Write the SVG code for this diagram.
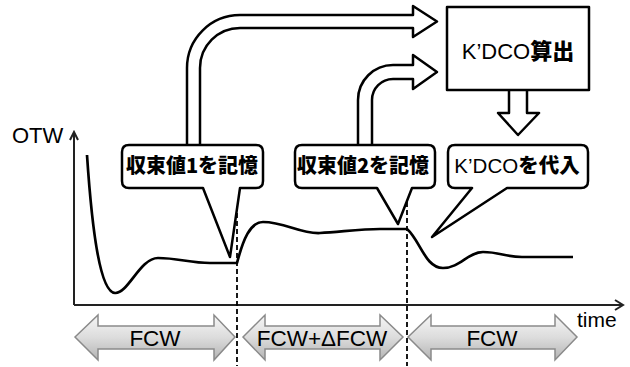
<svg xmlns="http://www.w3.org/2000/svg" width="630" height="367" viewBox="0 0 630 367">
<defs>
<linearGradient id="g" x1="0" y1="0" x2="0" y2="1">
<stop offset="0" stop-color="#f6f6f6"/>
<stop offset="0.5" stop-color="#dcdcdc"/>
<stop offset="1" stop-color="#b4b4b4"/>
</linearGradient>
</defs>
<style>
.ln{fill:none;stroke:#000;stroke-width:2.7;stroke-linejoin:round}
.ax{fill:none;stroke:#222;stroke-width:2}
.sh{fill:#fff;stroke:#000;stroke-width:2.5;stroke-linejoin:round}
.dash{fill:none;stroke:#000;stroke-width:1.8;stroke-dasharray:5 3}
.dbl{fill:url(#g);stroke:#8a8a8a;stroke-width:1.5}
.lat{font-family:"Liberation Sans",Arial,sans-serif;fill:#000}
.cjk{font-family:"Noto Sans CJK JP","Noto Sans CJK SC",sans-serif;font-weight:900;fill:#000}
</style>
<rect width="630" height="367" fill="#fff"/>
<g id="axes">
<path class="ax" d="M74,305 V132 M70,140 L74,132 L78,140"/>
<path class="ax" d="M74,305 H623 M615,300 L623,305 L615,310"/>
<text class="lat" x="12" y="143" font-size="22">OTW</text>
<text class="lat" x="577" y="327" font-size="21">time</text>
</g>
<g id="curve">
<path class="ln" d="M87,155 C92,230 100,292 115,293 C128,294 140,258 158,258 C178,258 190,263 210,263 L237,263 C243,240 250,222 263,222 C285,222 300,234 320,233 C340,232 360,229 380,229 L407,229 C420,240 425,268 443,268 C460,268 468,252 483,252 C500,252 505,257 522,257 L573,257"/>
</g>
<g id="connectors">
<path id="arrow-top1" class="sh" d="M187,146 V68 A53,53 0 0 1 240,15 H413 V6 L437,21.5 L413,37 V28 H240 A40,40 0 0 0 200,68 V146"/>
<path id="arrow-top2" class="sh" d="M358,146 V100 A35,35 0 0 1 393,65 H413 V55 L437,72 L413,89 V79 H393 A21,21 0 0 0 372,100 V146"/>
<path id="arrow-down" class="sh" d="M509,89 V113 H498 L518,135 L539,113 H527 V89"/>
</g>
<g id="box-kdco">
<rect class="sh" x="447" y="7" width="142" height="83"/>
<text x="518" y="59" text-anchor="middle" font-size="22"><tspan class="lat">K’DCO</tspan><tspan class="cjk">算出</tspan></text>
</g>
<g id="bubble1">
<path class="sh" d="M129,145 H256 Q263,145 263,152 V181 Q263,188 256,188 H240 L230,257 L203,188 H129 Q122,188 122,181 V152 Q122,145 129,145 Z"/>
<text class="cjk" x="192" y="173" text-anchor="middle" font-size="20">収束値1を記憶</text>
</g>
<g id="bubble2">
<path class="sh" d="M302,145 H428 Q435,145 435,152 V181 Q435,188 428,188 H412 L398,224 L377,188 H302 Q295,188 295,181 V152 Q295,145 302,145 Z"/>
<text class="cjk" x="363" y="173" text-anchor="middle" font-size="20">収束値2を記憶</text>
</g>
<g id="bubble3">
<path class="sh" d="M455,145 H581 Q588,145 588,152 V181 Q588,188 581,188 H507 L432,237 L472,188 H455 Q448,188 448,181 V152 Q448,145 455,145 Z"/>
<text x="517" y="173" text-anchor="middle" font-size="20.5"><tspan class="lat">K’DCO</tspan><tspan class="cjk">を代入</tspan></text>
</g>
<g id="dashes">
<path class="dash" d="M237,213 V366"/>
<path class="dash" d="M407,202 V366"/>
</g>
<g id="phase1">
<path class="dbl" d="M75,337 L98,315 V326 H214 V315 L235,337 L214,360 V349 H98 V360 Z"/>
<text class="lat" x="155" y="346" text-anchor="middle" font-size="22.5">FCW</text>
</g>
<g id="phase2">
<path class="dbl" d="M243,337 L265,315 V326 H380 V315 L403,337 L380,360 V349 H265 V360 Z"/>
<text class="lat" x="322" y="346" text-anchor="middle" font-size="22.5">FCW+ΔFCW</text>
</g>
<g id="phase3">
<path class="dbl" d="M408,337 L431,315 V326 H555 V315 L577,337 L555,360 V349 H431 V360 Z"/>
<text class="lat" x="492" y="346" text-anchor="middle" font-size="22.5">FCW</text>
</g>
</svg>
